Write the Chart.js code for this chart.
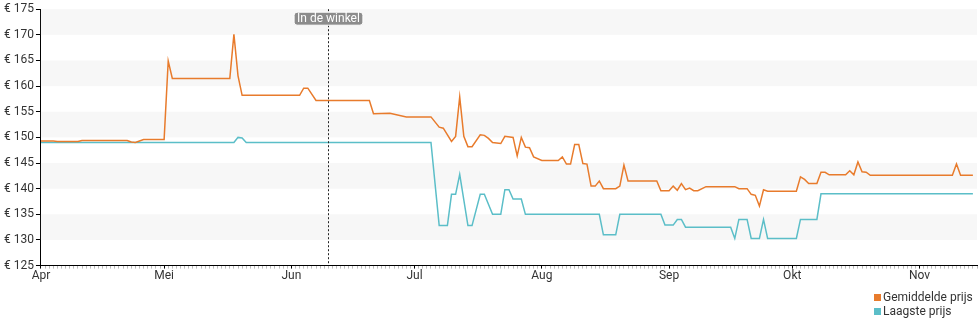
<!DOCTYPE html>
<html>
<head>
<meta charset="utf-8">
<script src="https://cdn.jsdelivr.net/npm/chart.js@4"></script>
<style>
  body { margin: 0; background: #fff; }
  #wrap { position: relative; width: 980px; height: 325px; }
  #legend { position: absolute; left: 874px; top: 290px; font: 12px Roboto, sans-serif; color: #333; line-height: 14px; }
  #legend span.box { display: inline-block; width: 7px; height: 7px; margin-right: 2px; }
</style>
</head>
<body>
<div id="wrap">
  <canvas id="myChart" width="980" height="325"></canvas>
  <div id="legend"></div>
</div>
<script>
// days counted from 1 april
const monthLabels = ['Apr', 'Mei', 'Jun', 'Jul', 'Aug', 'Sep', 'Okt', 'Nov'];
const monthStartDays = [0, 30, 61, 91, 122, 153, 183, 214];
const lastDay = 228;
const winkelDay = 70;
const yTicks = [125, 130, 135, 140, 145, 150, 155, 160, 165, 170, 175];

const gemDays = [0, 3, 4, 9, 10, 21, 22, 23, 24, 25, 30, 31, 32, 46, 47, 48, 49, 63, 64, 65, 67, 80, 81, 85, 89, 95, 97, 98, 100, 101, 102, 103, 104, 105, 107, 108, 109, 110, 112, 113, 115, 116, 117, 118, 119, 120, 122, 126, 127, 128, 129, 130, 131, 132, 133, 134, 135, 136, 137, 140, 141, 142, 143, 150, 151, 153, 154, 155, 156, 157, 158, 159, 160, 162, 169, 170, 172, 173, 174, 175, 176, 177, 184, 185, 186, 187, 189, 190, 191, 192, 196, 197, 198, 199, 200, 201, 202, 222, 223, 224, 227];
const gemPrices = [149.3, 149.3, 149.2, 149.2, 149.4, 149.4, 149.1, 149.0, 149.3, 149.6, 149.6, 164.9, 161.5, 161.5, 170.1, 162.0, 158.2, 158.2, 159.6, 159.6, 157.2, 157.2, 154.6, 154.7, 154.0, 154.0, 152.0, 151.8, 149.2, 150.2, 157.9, 150.2, 148.2, 148.2, 150.5, 150.4, 149.8, 149.0, 148.8, 150.2, 150.0, 146.4, 150.0, 148.1, 148.0, 146.2, 145.5, 145.5, 146.2, 144.8, 144.8, 148.6, 148.6, 144.9, 144.8, 140.5, 140.5, 141.5, 140.0, 140.0, 140.5, 144.6, 141.5, 141.5, 139.6, 139.6, 140.5, 139.7, 141.0, 139.8, 140.1, 139.6, 139.6, 140.4, 140.4, 140.0, 140.0, 138.9, 138.7, 136.6, 139.8, 139.5, 139.5, 142.3, 141.8, 141.0, 141.0, 143.2, 143.2, 142.7, 142.7, 143.5, 142.7, 145.2, 143.3, 143.2, 142.6, 142.6, 144.8, 142.6, 142.6];

const laagDays = [0, 47, 48, 49, 50, 95, 97, 99, 100, 101, 102, 104, 105, 107, 108, 110, 112, 113, 114, 115, 117, 118, 136, 137, 140, 141, 151, 152, 154, 155, 156, 157, 168, 169, 170, 172, 173, 175, 176, 177, 184, 185, 189, 190, 227];
const laagPrices = [149.0, 149.0, 150.0, 149.9, 149.0, 149.0, 132.8, 132.8, 138.9, 138.9, 142.8, 132.8, 132.8, 138.9, 138.9, 135.0, 135.0, 139.8, 139.8, 138.0, 138.0, 135.0, 135.0, 131.0, 131.0, 135.0, 135.0, 132.9, 132.9, 134.0, 134.0, 132.5, 132.5, 130.3, 134.0, 134.0, 130.3, 130.3, 134.0, 130.3, 130.3, 134.0, 134.0, 139.0, 139.0];

const toPoints = (days, prices) => days.map((d, i) => ({ x: d, y: prices[i] }));

/* alternating grey bands */
const bandsPlugin = {
    id: 'bands',
    beforeDatasetsDraw(chart) {
        const { ctx, chartArea, scales } = chart;
        ctx.save();
        ctx.fillStyle = '#f7f7f7';
        for (let i = yTicks.length - 1; i > 0; i -= 2) {
            const top = scales.y.getPixelForValue(yTicks[i]);
            const bot = scales.y.getPixelForValue(yTicks[i - 1]);
            ctx.fillRect(chartArea.left, top, chartArea.right - chartArea.left, bot - top);
        }
        ctx.restore();
    }
};

/* dotted line + label "In de winkel" */
const winkelPlugin = {
    id: 'winkel',
    afterDatasetsDraw(chart) {
        const { ctx, chartArea, scales } = chart;
        const x = Math.round(scales.x.getPixelForValue(winkelDay)) + 0.5;
        ctx.save();
        ctx.strokeStyle = '#222';
        ctx.lineWidth = 1;
        ctx.setLineDash([2, 2]);
        ctx.beginPath();
        ctx.moveTo(x, chartArea.top);
        ctx.lineTo(x, chartArea.bottom);
        ctx.stroke();
        ctx.setLineDash([]);
        ctx.font = '12px Roboto';
        const text = 'In de winkel';
        const w = ctx.measureText(text).width + 6;
        const h = 13;
        const bx = x - w / 2, by = chartArea.top + 3;
        ctx.fillStyle = '#8c8c8c';
        ctx.strokeStyle = '#ffffff';
        ctx.beginPath();
        ctx.roundRect(bx, by, w, h, 3);
        ctx.fill();
        ctx.stroke();
        ctx.fillStyle = '#fff';
        ctx.textAlign = 'center';
        ctx.textBaseline = 'middle';
        ctx.fillText(text, x, by + h / 2 + 0.5);
        ctx.restore();
    }
};

Chart.defaults.font.family = 'Roboto';
Chart.defaults.font.size = 12;
Chart.defaults.color = '#333';

const ctx = document.getElementById('myChart').getContext('2d');
const myChart = new Chart(ctx, {
    type: 'line',
    data: {
        datasets: [{
            label: 'Gemiddelde prijs',
            data: toPoints(gemDays, gemPrices),
            borderColor: '#e87b2c',
            backgroundColor: '#e87b2c',
            borderWidth: 1.5,
            pointRadius: 0,
            tension: 0,
            fill: false
        }, {
            label: 'Laagste prijs',
            data: toPoints(laagDays, laagPrices),
            borderColor: '#5bbec8',
            backgroundColor: '#5bbec8',
            borderWidth: 1.5,
            pointRadius: 0,
            tension: 0,
            fill: false
        }]
    },
    options: {
        responsive: false,
        animation: false,
        layout: { padding: { top: 6, right: 3, bottom: 42, left: 2 } },
        plugins: {
            legend: { display: false },
            tooltip: { enabled: false }
        },
        scales: {
            x: {
                type: 'linear',
                min: 0,
                max: lastDay,
                border: { color: '#000', width: 1 },
                grid: {
                    drawOnChartArea: false,
                    tickLength: 3,
                    tickColor: c => monthStartDays.includes(c.tick.value) ? '#000' : '#bbb'
                },
                afterBuildTicks: scale => {
                    const t = [];
                    for (let d = 0; d <= lastDay; d++) t.push({ value: d });
                    scale.ticks = t;
                },
                ticks: {
                    autoSkip: false,
                    maxRotation: 0,
                    padding: 0,
                    color: '#333',
                    callback: v => {
                        const i = monthStartDays.indexOf(v);
                        return i >= 0 ? monthLabels[i] : '';
                    }
                }
            },
            y: {
                min: 125,
                max: 175,
                border: { color: '#000', width: 1 },
                grid: { drawOnChartArea: false, tickLength: 5, tickColor: '#000' },
                afterBuildTicks: scale => { scale.ticks = yTicks.map(v => ({ value: v })); },
                ticks: {
                    padding: 2,
                    color: '#333',
                    callback: v => '€ ' + v
                }
            }
        }
    },
    plugins: [bandsPlugin, winkelPlugin]
});

// legend as html, built from the datasets
document.getElementById('legend').innerHTML = myChart.data.datasets.map(ds =>
    '<div><span class="box" style="background:' + ds.borderColor + '"></span>' + ds.label + '</div>'
).join('');
</script>
</body>
</html>
